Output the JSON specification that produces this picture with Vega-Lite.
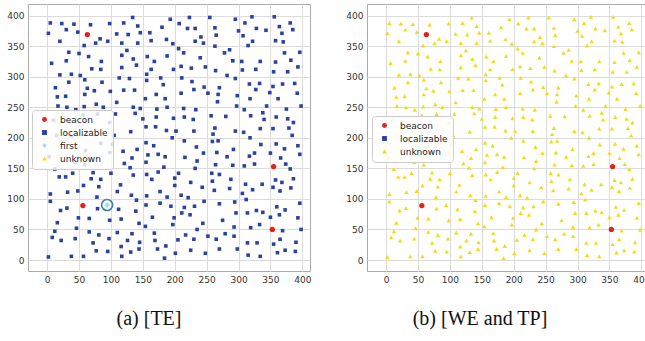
{
  "$schema": "https://vega.github.io/schema/vega-lite/v6.json",
  "background": "white",
  "padding": {"left": 6, "top": 3, "right": 0, "bottom": 0},
  "spacing": 33,
  "config": {
    "view": {"stroke": "#aaaaaa", "strokeWidth": 1},
    "axis": {"grid": true, "gridColor": "#dcdcdc", "gridWidth": 1, "domain": false, "ticks": false, "labelFont": "DejaVu Sans", "labelFontSize": 9, "labelColor": "#333333", "labelPadding": 4, "title": null, "labelFlush": false, "labelOverlap": false},
    "legend": {"orient": "none", "title": null, "fillColor": "rgba(255,255,255,0.82)", "strokeColor": "#cccccc", "cornerRadius": 3, "padding": 5, "labelFont": "DejaVu Sans", "labelFontSize": 9, "labelColor": "#222222", "symbolSize": 24, "symbolStrokeWidth": 0, "labelOffset": 11, "symbolOffset": 3, "rowPadding": 3},
    "title": {"font": "Liberation Serif", "fontSize": 20, "fontWeight": "normal", "color": "#111111", "orient": "bottom", "anchor": "middle", "offset": 25}
  },
  "datasets": {
    "pts": [
      {"x":5,"y":388},{"x":23,"y":387},{"x":42,"y":386},{"x":68,"y":385},{"x":98,"y":387},{"x":120,"y":388},{"x":30,"y":377},{"x":2,"y":371},{"x":48,"y":373},{"x":109,"y":370},{"x":127,"y":369},{"x":20,"y":358},{"x":58,"y":351},{"x":76,"y":355},{"x":83,"y":362},{"x":95,"y":358},{"x":117,"y":355},{"x":34,"y":340},{"x":50,"y":338},{"x":65,"y":333},{"x":125,"y":343},{"x":117,"y":335},{"x":7,"y":322},{"x":30,"y":326},{"x":85,"y":325},{"x":70,"y":313},{"x":84,"y":312},{"x":117,"y":315},{"x":20,"y":303},{"x":38,"y":304},{"x":52,"y":302},{"x":59,"y":295},{"x":34,"y":291},{"x":86,"y":291},{"x":113,"y":298},{"x":129,"y":297},{"x":13,"y":282},{"x":63,"y":281},{"x":74,"y":277},{"x":99,"y":276},{"x":120,"y":278},{"x":16,"y":267},{"x":29,"y":268},{"x":59,"y":271},
      {"x":134,"y":397},{"x":142,"y":383},{"x":146,"y":372},{"x":161,"y":372},{"x":180,"y":381},{"x":193,"y":394},{"x":207,"y":387},{"x":220,"y":379},{"x":223,"y":397},{"x":232,"y":379},{"x":255,"y":397},{"x":263,"y":380},{"x":241,"y":365},{"x":232,"y":358},{"x":245,"y":355},{"x":142,"y":355},{"x":163,"y":359},{"x":187,"y":361},{"x":197,"y":354},{"x":206,"y":346},{"x":214,"y":339},{"x":135,"y":329},{"x":140,"y":319},{"x":157,"y":333},{"x":168,"y":325},{"x":188,"y":334},{"x":163,"y":312},{"x":156,"y":304},{"x":137,"y":278},{"x":156,"y":294},{"x":178,"y":298},{"x":182,"y":287},{"x":171,"y":271},{"x":154,"y":264},{"x":185,"y":264},{"x":198,"y":312},{"x":210,"y":317},{"x":226,"y":314},{"x":240,"y":331},{"x":248,"y":316},{"x":211,"y":298},{"x":227,"y":292},{"x":210,"y":273},{"x":230,"y":279},{"x":246,"y":283},{"x":263,"y":350},{"x":264,"y":310},{"x":252,"y":273},
      {"x":295,"y":394},{"x":310,"y":388},{"x":321,"y":398},{"x":356,"y":398},{"x":381,"y":388},{"x":300,"y":375},{"x":328,"y":379},{"x":343,"y":376},{"x":364,"y":382},{"x":385,"y":377},{"x":265,"y":368},{"x":307,"y":367},{"x":322,"y":358},{"x":315,"y":351},{"x":368,"y":371},{"x":358,"y":359},{"x":370,"y":357},{"x":278,"y":339},{"x":286,"y":344},{"x":291,"y":326},{"x":305,"y":325},{"x":334,"y":325},{"x":358,"y":324},{"x":372,"y":339},{"x":382,"y":327},{"x":396,"y":340},{"x":306,"y":311},{"x":327,"y":312},{"x":355,"y":308},{"x":377,"y":308},{"x":393,"y":316},{"x":282,"y":302},{"x":295,"y":297},{"x":317,"y":288},{"x":333,"y":289},{"x":327,"y":279},{"x":354,"y":284},{"x":369,"y":288},{"x":388,"y":289},{"x":270,"y":282},{"x":268,"y":271},{"x":298,"y":269},{"x":318,"y":264},{"x":349,"y":274},{"x":362,"y":264},{"x":392,"y":273},
      {"x":17,"y":252},{"x":31,"y":250},{"x":45,"y":246},{"x":58,"y":251},{"x":77,"y":255},{"x":88,"y":250},{"x":109,"y":258},{"x":107,"y":239},{"x":79,"y":239},{"x":56,"y":237},{"x":10,"y":229},{"x":98,"y":225},{"x":15,"y":204},{"x":38,"y":203},{"x":84,"y":191},{"x":105,"y":204},{"x":102,"y":189},{"x":60,"y":179},{"x":98,"y":176},{"x":119,"y":178},{"x":3,"y":169},{"x":44,"y":160},{"x":12,"y":149},{"x":19,"y":136},{"x":29,"y":136},{"x":40,"y":142},{"x":72,"y":143},{"x":100,"y":142},{"x":121,"y":158},{"x":59,"y":156},
      {"x":135,"y":250},{"x":146,"y":248},{"x":172,"y":247},{"x":188,"y":250},{"x":214,"y":248},{"x":233,"y":246},{"x":138,"y":240},{"x":150,"y":231},{"x":171,"y":234},{"x":198,"y":232},{"x":215,"y":234},{"x":229,"y":230},{"x":155,"y":218},{"x":170,"y":218},{"x":131,"y":210},{"x":187,"y":212},{"x":202,"y":211},{"x":230,"y":211},{"x":196,"y":200},{"x":155,"y":192},{"x":167,"y":187},{"x":215,"y":195},{"x":259,"y":194},{"x":260,"y":206},{"x":141,"y":181},{"x":234,"y":185},{"x":245,"y":175},{"x":158,"y":172},{"x":174,"y":173},{"x":185,"y":169},{"x":216,"y":168},{"x":133,"y":167},{"x":155,"y":160},{"x":235,"y":162},{"x":130,"y":151},{"x":183,"y":152},{"x":232,"y":150},{"x":135,"y":139},{"x":156,"y":140},{"x":174,"y":144},{"x":206,"y":142},{"x":258,"y":142},{"x":257,"y":236},
      {"x":267,"y":259},{"x":297,"y":252},{"x":309,"y":246},{"x":344,"y":252},{"x":375,"y":247},{"x":398,"y":252},{"x":280,"y":235},{"x":319,"y":236},{"x":338,"y":241},{"x":340,"y":230},{"x":359,"y":234},{"x":377,"y":231},{"x":386,"y":225},{"x":263,"y":216},{"x":295,"y":211},{"x":308,"y":209},{"x":334,"y":215},{"x":354,"y":215},{"x":379,"y":216},{"x":318,"y":200},{"x":384,"y":204},{"x":268,"y":195},{"x":292,"y":181},{"x":335,"y":189},{"x":359,"y":190},{"x":393,"y":187},{"x":266,"y":176},{"x":325,"y":175},{"x":350,"y":175},{"x":372,"y":182},{"x":282,"y":169},{"x":317,"y":170},{"x":366,"y":167},{"x":396,"y":173},{"x":264,"y":156},{"x":291,"y":155},{"x":309,"y":154},{"x":325,"y":157},{"x":374,"y":157},{"x":381,"y":149},{"x":270,"y":140},{"x":288,"y":132},{"x":358,"y":131},{"x":368,"y":127},{"x":386,"y":133},
      {"x":69,"y":133},{"x":84,"y":132},{"x":57,"y":122},{"x":81,"y":120},{"x":78,"y":103},{"x":115,"y":123},{"x":5,"y":108},{"x":32,"y":111},{"x":48,"y":113},{"x":110,"y":112},{"x":5,"y":96},{"x":79,"y":84},{"x":112,"y":83},{"x":31,"y":85},{"x":21,"y":81},{"x":49,"y":69},{"x":66,"y":68},{"x":98,"y":65},{"x":116,"y":67},{"x":16,"y":61},{"x":46,"y":52},{"x":66,"y":46},{"x":81,"y":41},{"x":12,"y":47},{"x":8,"y":37},{"x":22,"y":32},{"x":44,"y":35},{"x":72,"y":28},{"x":97,"y":35},{"x":116,"y":22},{"x":77,"y":15},{"x":95,"y":14},{"x":2,"y":5},{"x":38,"y":6},{"x":57,"y":6},{"x":117,"y":6},{"x":110,"y":45},
      {"x":164,"y":132},{"x":200,"y":134},{"x":200,"y":122},{"x":225,"y":127},{"x":243,"y":119},{"x":259,"y":129},{"x":132,"y":106},{"x":140,"y":98},{"x":156,"y":105},{"x":177,"y":112},{"x":188,"y":103},{"x":210,"y":106},{"x":221,"y":102},{"x":246,"y":96},{"x":155,"y":90},{"x":177,"y":93},{"x":194,"y":88},{"x":215,"y":86},{"x":231,"y":88},{"x":139,"y":80},{"x":165,"y":70},{"x":199,"y":69},{"x":211,"y":77},{"x":224,"y":74},{"x":197,"y":58},{"x":244,"y":60},{"x":144,"y":60},{"x":154,"y":55},{"x":235,"y":50},{"x":133,"y":43},{"x":168,"y":44},{"x":217,"y":41},{"x":252,"y":39},{"x":145,"y":29},{"x":169,"y":32},{"x":205,"y":33},{"x":230,"y":34},{"x":131,"y":13},{"x":144,"y":18},{"x":173,"y":18},{"x":186,"y":23},{"x":201,"y":11},{"x":225,"y":16},{"x":248,"y":11},{"x":184,"y":3},{"x":126,"y":32},
      {"x":311,"y":124},{"x":337,"y":124},{"x":262,"y":114},{"x":286,"y":117},{"x":306,"y":109},{"x":322,"y":115},{"x":354,"y":119},{"x":365,"y":113},{"x":382,"y":118},{"x":312,"y":99},{"x":270,"y":92},{"x":294,"y":95},{"x":396,"y":93},{"x":296,"y":77},{"x":314,"y":77},{"x":328,"y":81},{"x":338,"y":78},{"x":360,"y":87},{"x":373,"y":82},{"x":364,"y":74},{"x":350,"y":70},{"x":393,"y":69},{"x":275,"y":65},{"x":293,"y":54},{"x":319,"y":53},{"x":333,"y":58},{"x":369,"y":48},{"x":398,"y":50},{"x":279,"y":43},{"x":293,"y":39},{"x":265,"y":34},{"x":365,"y":34},{"x":314,"y":28},{"x":329,"y":28},{"x":355,"y":26},{"x":390,"y":29},{"x":270,"y":18},{"x":298,"y":18},{"x":373,"y":16},{"x":389,"y":14},{"x":315,"y":8},{"x":334,"y":6},{"x":361,"y":12}
    ],
    "beacons": [{"x":63,"y":369},{"x":56,"y":89},{"x":355,"y":153},{"x":353,"y":50}],
    "first": [{"x":94,"y":90}]
  },
  "resolve": {"scale": {"color": "independent", "shape": "independent"}},
  "hconcat": [
    {
      "width": 282, "height": 267,
      "title": {"text": "(a) [TE]", "dx": -20},
      "encoding": {
        "x": {"field": "x", "type": "quantitative", "scale": {"domain": [-30, 412], "nice": false, "zero": false}, "axis": {"values": [0,50,100,150,200,250,300,350,400]}},
        "y": {"field": "y", "type": "quantitative", "scale": {"domain": [-18, 419], "nice": false, "zero": false}, "axis": {"values": [0,50,100,150,200,250,300,350,400]}}
      },
      "layer": [
        {
          "data": {"name": "pts"},
          "mark": {"type": "point", "filled": true, "size": 13, "opacity": 1},
          "encoding": {
            "color": {"datum": "localizable", "type": "nominal", "scale": {"domain": ["beacon","localizable","first","unknown"], "range": ["#e3211d","#2c42a0","#a8dce8","#f2dc18"]}, "legend": {"legendX": 4, "legendY": 106}},
            "shape": {"datum": "localizable", "type": "nominal", "scale": {"domain": ["beacon","localizable","first","unknown"], "range": ["circle","square","diamond","triangle-up"]}, "legend": {"legendX": 4, "legendY": 106}}
          }
        },
        {
          "data": {"name": "beacons"},
          "mark": {"type": "point", "filled": true, "size": 28, "opacity": 1},
          "encoding": {"color": {"datum": "beacon", "type": "nominal"}, "shape": {"datum": "beacon", "type": "nominal"}}
        },
        {
          "data": {"name": "first"},
          "mark": {"type": "point", "filled": false, "size": 120, "stroke": "#3a80a6", "strokeWidth": 1.6, "opacity": 1},
          "encoding": {}
        },
        {
          "data": {"name": "first"},
          "mark": {"type": "point", "filled": true, "size": 34, "opacity": 1},
          "encoding": {"color": {"datum": "first", "type": "nominal"}, "shape": {"datum": "first", "type": "nominal"}}
        }
      ]
    },
    {
      "width": 282, "height": 267,
      "title": {"text": "(b) [WE and TP]", "dx": -28},
      "encoding": {
        "x": {"field": "x", "type": "quantitative", "scale": {"domain": [-30, 412], "nice": false, "zero": false}, "axis": {"values": [0,50,100,150,200,250,300,350,400]}},
        "y": {"field": "y", "type": "quantitative", "scale": {"domain": [-18, 419], "nice": false, "zero": false}, "axis": {"values": [0,50,100,150,200,250,300,350,400]}}
      },
      "layer": [
        {
          "data": {"name": "pts"},
          "mark": {"type": "point", "filled": true, "size": 20, "opacity": 1},
          "encoding": {
            "color": {"datum": "unknown", "type": "nominal", "scale": {"domain": ["beacon","localizable","unknown"], "range": ["#e3211d","#2c42a0","#f2dc18"]}, "legend": {"legendX": 5, "legendY": 112}},
            "shape": {"datum": "unknown", "type": "nominal", "scale": {"domain": ["beacon","localizable","unknown"], "range": ["circle","square","triangle-up"]}, "legend": {"legendX": 5, "legendY": 112}}
          }
        },
        {
          "data": {"name": "first"},
          "mark": {"type": "point", "filled": true, "size": 20, "opacity": 1},
          "encoding": {"color": {"datum": "unknown", "type": "nominal"}, "shape": {"datum": "unknown", "type": "nominal"}}
        },
        {
          "data": {"name": "beacons"},
          "mark": {"type": "point", "filled": true, "size": 28, "opacity": 1},
          "encoding": {"color": {"datum": "beacon", "type": "nominal"}, "shape": {"datum": "beacon", "type": "nominal"}}
        }
      ]
    }
  ]
}
